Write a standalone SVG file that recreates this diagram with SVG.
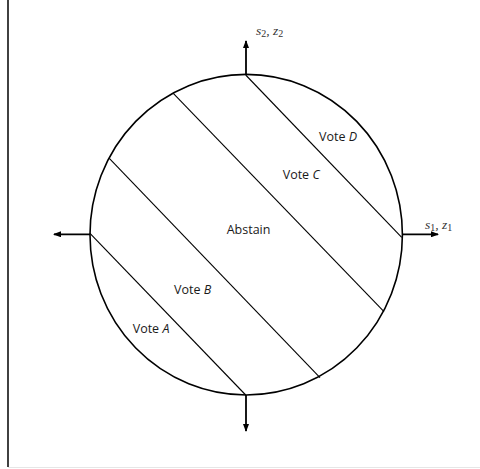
<svg xmlns="http://www.w3.org/2000/svg" width="480" height="469" viewBox="0 0 480 469">
<style>
.lbl{font-family:"Open Sans","Liberation Sans",sans-serif;font-size:12.5px;fill:#1a1a1a}
.m{font-family:"Liberation Serif",serif;font-style:italic;font-size:13.5px;fill:#333}
.sub{font-size:10px;font-style:normal}
.axis{stroke:#000;stroke-width:1.8;fill:none}
.chord{stroke:#000;stroke-width:1.1;fill:none}
</style>
<defs>
<marker id="ah" markerWidth="8" markerHeight="6" refX="7" refY="3" orient="auto" markerUnits="userSpaceOnUse">
<path d="M0,0 L8,3 L0,6 Z" fill="#000"/>
</marker>
</defs>
<rect width="480" height="469" fill="#fff"/>
<line x1="8" y1="0" x2="8" y2="467" stroke="#111" stroke-width="1.6"/>
<line x1="8" y1="467.5" x2="480" y2="467.5" stroke="#e6e6e6" stroke-width="1"/>
<g id="circle">
<ellipse cx="246.2" cy="234.7" rx="156.2" ry="160.3" fill="none" stroke="#000" stroke-width="1.6"/>
</g>
<g id="connectors">
<line class="axis" x1="246" y1="74.5" x2="246" y2="41" marker-end="url(#ah)"/>
<line class="axis" x1="402.4" y1="234.3" x2="438" y2="234.3" marker-end="url(#ah)"/>
<line class="axis" x1="90" y1="234.3" x2="54" y2="234.3" marker-end="url(#ah)"/>
<line class="axis" x1="246" y1="395" x2="246" y2="431" marker-end="url(#ah)"/>
<line class="chord" x1="245.7" y1="75" x2="401.7" y2="237.3"/>
<line class="chord" x1="173.3" y1="93.3" x2="384" y2="311.7"/>
<line class="chord" x1="109.3" y1="158.3" x2="320" y2="377.7"/>
<line class="chord" x1="90" y1="233.3" x2="245.7" y2="395"/>
</g>
<g id="labels">
<text class="m" x="256" y="34.5">s<tspan class="sub" dy="2">2</tspan><tspan dy="-2">, z</tspan><tspan class="sub" dy="2">2</tspan></text>
<text class="m" x="425" y="228.5">s<tspan class="sub" dy="2">1</tspan><tspan dy="-2">, z</tspan><tspan class="sub" dy="2">1</tspan></text>
<text class="lbl" x="319" y="141">Vote <tspan font-style="italic">D</tspan></text>
<text class="lbl" x="282.7" y="179.3">Vote <tspan font-style="italic">C</tspan></text>
<text class="lbl" x="226.7" y="234.3">Abstain</text>
<text class="lbl" x="174" y="294.3">Vote <tspan font-style="italic">B</tspan></text>
<text class="lbl" x="132.7" y="332.7">Vote <tspan font-style="italic">A</tspan></text>
</g>
</svg>
